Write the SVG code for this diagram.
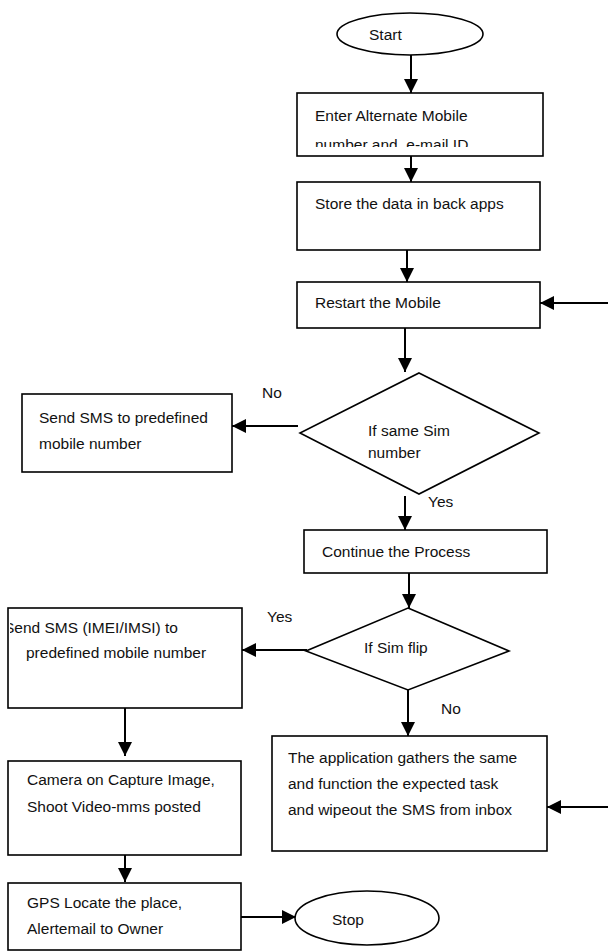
<svg xmlns="http://www.w3.org/2000/svg" width="608" height="952" viewBox="0 0 608 952">
<style>
.n{fill:#fff;stroke:#000;stroke-width:1.6}
.t{font-family:"Liberation Sans",Arial,sans-serif;font-size:15.5px;fill:#111}
.c{stroke:#000;stroke-width:2;fill:none;marker-end:url(#ah)}
</style>
<defs>
<marker id="ah" markerUnits="userSpaceOnUse" markerWidth="14" markerHeight="14" refX="14" refY="7" orient="auto">
<path d="M0,0 L14,7 L0,14 z" fill="#000"/>
</marker>
<clipPath id="clip1"><rect x="297" y="93" width="246" height="54"/></clipPath>
<clipPath id="clip2"><rect x="10" y="608" width="232" height="100"/></clipPath>
</defs>
<rect width="608" height="952" fill="#fff"/>
<g id="connectors">
<line class="c" x1="411" y1="55" x2="411" y2="93"/>
<line class="c" x1="411" y1="156" x2="411" y2="182"/>
<line class="c" x1="407" y1="250" x2="407" y2="282"/>
<line class="c" x1="608" y1="303" x2="540" y2="303"/>
<line class="c" x1="405" y1="328" x2="405" y2="372"/>
<line class="c" x1="298" y1="426" x2="232" y2="426"/>
<line class="c" x1="405" y1="496" x2="405" y2="530"/>
<line class="c" x1="409" y1="573" x2="409" y2="608"/>
<line class="c" x1="307" y1="650" x2="242" y2="650"/>
<line class="c" x1="408" y1="690" x2="408" y2="736"/>
<line class="c" x1="125" y1="708" x2="125" y2="756"/>
<line class="c" x1="125" y1="855" x2="125" y2="882"/>
<line class="c" x1="241" y1="917" x2="296" y2="917"/>
<line class="c" x1="608" y1="807" x2="547" y2="807"/>
<text class="t" x="262" y="398">No</text>
<text class="t" x="428" y="507">Yes</text>
<text class="t" x="267" y="622">Yes</text>
<text class="t" x="441" y="714">No</text>
</g>
<g id="start">
<ellipse class="n" cx="410" cy="34" rx="73" ry="21"/>
<text class="t" x="369" y="40">Start</text>
</g>
<g id="enter">
<rect class="n" x="297" y="93" width="246" height="63"/>
<text class="t" x="315" y="121">Enter Alternate Mobile</text>
<text class="t" x="315" y="150" clip-path="url(#clip1)" xml:space="preserve">number and  e-mail ID</text>
</g>
<g id="store">
<rect class="n" x="297" y="182" width="243" height="68"/>
<text class="t" x="315" y="209">Store the data in back apps</text>
</g>
<g id="restart">
<rect class="n" x="297" y="282" width="243" height="46"/>
<text class="t" x="315" y="308">Restart the Mobile</text>
</g>
<g id="same-sim">
<polygon class="n" points="419,373 539,433 419,494 300,433"/>
<text class="t" x="368" y="436">If same Sim</text>
<text class="t" x="368" y="458">number</text>
</g>
<g id="send-sms">
<rect class="n" x="22" y="394" width="210" height="78"/>
<text class="t" x="39" y="423">Send SMS to predefined</text>
<text class="t" x="39" y="449">mobile number</text>
</g>
<g id="continue">
<rect class="n" x="304" y="530" width="243" height="43"/>
<text class="t" x="322" y="557">Continue the Process</text>
</g>
<g id="sim-flip">
<polygon class="n" points="408,608 509,651 408,690 306,651"/>
<text class="t" x="364" y="653">If Sim flip</text>
</g>
<g id="send-imei">
<rect class="n" x="8" y="608" width="234" height="100"/>
<text class="t" x="4" y="633" clip-path="url(#clip2)">Send SMS (IMEI/IMSI) to</text>
<text class="t" x="26" y="658">predefined mobile number</text>
</g>
<g id="application">
<rect class="n" x="272" y="736" width="275" height="115"/>
<text class="t" x="288" y="763">The application gathers the same</text>
<text class="t" x="288" y="789">and function the expected task</text>
<text class="t" x="288" y="815">and wipeout the SMS from inbox</text>
</g>
<g id="camera">
<rect class="n" x="8" y="761" width="233" height="94"/>
<text class="t" x="27" y="785">Camera on Capture Image,</text>
<text class="t" x="27" y="812">Shoot Video-mms posted</text>
</g>
<g id="gps">
<rect class="n" x="8" y="883" width="233" height="67"/>
<text class="t" x="27" y="908">GPS Locate the place,</text>
<text class="t" x="27" y="934">Alertemail to Owner</text>
</g>
<g id="stop">
<ellipse class="n" cx="367" cy="918" rx="72" ry="27"/>
<text class="t" x="332" y="925">Stop</text>
</g>
</svg>
